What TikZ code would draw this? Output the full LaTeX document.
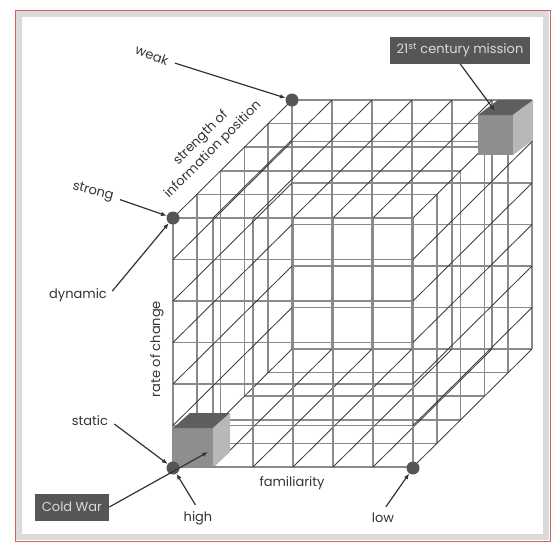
\documentclass[tikz,border=0pt]{standalone}
\usepackage{fontspec}
\setmainfont{Poppins}
\usetikzlibrary{arrows.meta}
\definecolor{ink}{HTML}{333333}
\definecolor{wiregrey}{HTML}{8A8A8A}
\definecolor{depthgrey}{HTML}{3C3C3C}
\definecolor{dotgrey}{HTML}{555555}
\definecolor{boxgrey}{HTML}{565656}
\definecolor{boxtext}{HTML}{DADADA}
\definecolor{cubefront}{HTML}{8E8E8E}
\definecolor{cubetop}{HTML}{5E5E5E}
\definecolor{cubeside}{HTML}{B8B8B8}
\definecolor{framered}{HTML}{CF625E}
\tikzset{
 wire/.style={draw=wiregrey,line width=1.6pt},
 depthwire/.style={draw=depthgrey,line width=.85pt},
 dot/.style={circle,fill=dotgrey,inner sep=0pt,minimum size=13pt},
 lbl/.style={text=ink,inner sep=2pt},
 tag/.style={fill=boxgrey,text=boxtext,minimum height=27pt,inner xsep=7pt},
 callout/.style={-{Latex[length=2mm,width=1.6mm]},draw=ink,line width=1.2pt,shorten <=5pt}
}

\begin{document}
\begin{tikzpicture}[x=1pt,y=-1pt,font=\fontsize{13}{17}\selectfont]
  \useasboundingbox (0,0) rectangle (553,542);
  % frame
  \draw[black!14,line width=6pt] (19,14) rectangle (546,537);
  \draw[framered,line width=.8pt] (15,10) rectangle (550,541);

  % the lattice, only its outer faces
  \begin{scope}[shift={(173,467)},x={(40pt,0pt)},y={(0pt,41.5pt)},z={(23.8pt,23.6pt)}]
    \foreach \j in {0,...,6} {
      \draw[wire] (0,\j,0) -- (6,\j,0);
      \draw[wire] (0,\j,5) -- (6,\j,5);
    }
    \foreach \k in {1,...,4} {
      \draw[wire] (0,0,\k) -- (6,0,\k);
      \draw[wire] (0,6,\k) -- (6,6,\k);
      \draw[wire] (0,0,\k) -- (0,6,\k);
      \draw[wire] (6,0,\k) -- (6,6,\k);
    }
    \foreach \i in {0,...,6} {
      \draw[wire] (\i,0,0) -- (\i,6,0);
      \draw[wire] (\i,0,5) -- (\i,6,5);
      \draw[depthwire] (\i,0,0) -- (\i,0,5);
      \draw[depthwire] (\i,6,0) -- (\i,6,5);
    }
    \foreach \j in {1,...,5} {
      \draw[depthwire] (0,\j,0) -- (0,\j,5);
      \draw[depthwire] (6,\j,0) -- (6,\j,5);
    }
  \end{scope}

  % small cubes
  \fill[cubefront] (173,428) rectangle (213,467);
  \fill[cubetop] (173,428) -- (190,413) -- (230,413) -- (213,428) -- cycle;
  \fill[cubeside] (213,428) -- (230,413) -- (230,452) -- (213,467) -- cycle;
  \fill[cubefront] (478,115) rectangle (513,155);
  \fill[cubetop] (478,115) -- (498,100) -- (533,100) -- (513,115) -- cycle;
  \fill[cubeside] (513,115) -- (533,100) -- (533,140) -- (513,155) -- cycle;
  \coordinate (cwcube) at (208,452);
  \coordinate (mscube) at (495,111);

  \node[dot] (weakdot) at (292,100) {};
  \node[dot] (strongdot) at (173,218) {};
  \node[dot] (cwdot) at (173,468) {};
  \node[dot] (lowdot) at (413,468) {};

  \node[lbl,rotate=-20] (weak) at (152,55) {weak};
  \node[lbl,rotate=-15] (strong) at (93,192) {strong};
  \node[lbl] (dynamic) at (78,295) {dynamic};
  \node[lbl] (static) at (90,421) {static};
  \node[lbl] (high) at (198,518) {high};
  \node[lbl] (low) at (383,518) {low};
  \node[lbl] (familiarity) at (292,483) {familiarity};
  \node[lbl,rotate=90] (rate) at (157,349) {rate of change};
  \node[lbl,rotate=45,align=center] (strength) at (207,144) {strength of\\information position};
  \node[tag] (coldwar) at (72,507) {Cold War};
  \node[tag] (mission) at (460,50) {21\textsuperscript{st} century mission};

  \draw[callout] (weak.east) -- (weakdot);
  \draw[callout] (strong.east) -- (strongdot);
  \draw[callout] (dynamic.east) -- (strongdot);
  \draw[callout] (static.east) -- (cwdot);
  \draw[callout] (high.north) -- (cwdot);
  \draw[callout] (low.north) -- (lowdot);
  \draw[callout,shorten <=0pt] (coldwar.east) -- (cwcube);
  \draw[callout,shorten <=0pt] (mission.south) -- (mscube);
\end{tikzpicture}
\end{document}
